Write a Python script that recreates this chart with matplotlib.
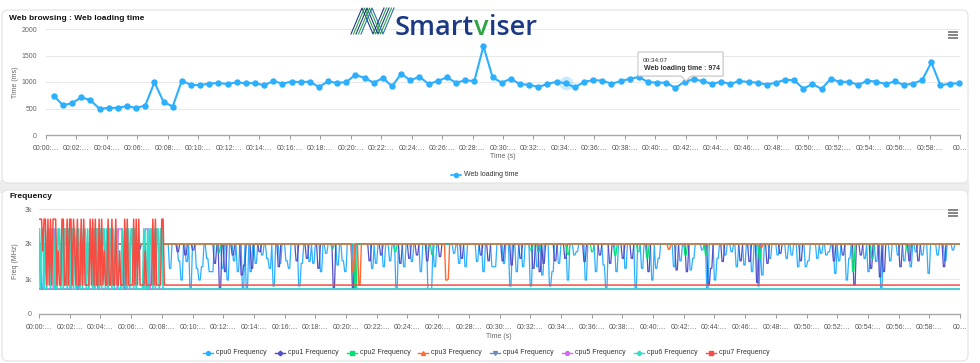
import numpy as np
import matplotlib
matplotlib.use("Agg")
import matplotlib.pyplot as plt
from matplotlib.patches import FancyBboxPatch, Rectangle, Polygon

plt.rcParams['font.family'] = ['Liberation Sans', 'DejaVu Sans']

W, H = 980, 363

# ---------------- Web loading time (one sample every 36 s, first at 31 s) ----------------
load_start_s = 31
load_step_s = 36
load_ms = [737, 562, 600, 712, 656, 494, 512, 512, 544, 512,
           556, 994, 625, 537, 1025, 944, 944, 969, 981, 962,
           994, 975, 981, 937, 1019, 969, 1006, 1000, 1006, 906,
           1012, 981, 1000, 1137, 1075, 987, 1075, 919, 1156, 1031,
           1100, 962, 1019, 1087, 987, 1031, 1019, 1675, 1087, 987,
           1062, 956, 950, 906, 962, 1006, 974, 900, 1000, 1037,
           1025, 969, 1012, 1062, 1094, 1000, 987, 987, 887, 1006,
           1050, 1019, 962, 1006, 962, 1019, 1000, 987, 950, 987,
           1044, 1031, 875, 962, 869, 1062, 1000, 1006, 944, 1025,
           1006, 962, 1012, 944, 969, 1037, 1369, 937, 969, 975]
tooltip_index = 56
tooltip_time = "00:34:07"

# ---------------- CPU frequency (MHz), sampled every 5 s over 60 min ----------------
freq_step_s = 5
freq_duration_s = 3600
dip_samples = 2   # each drop lasts about 10 s

# first ~8 minutes (98 samples) of the big cores
cpu7_early = [2710, 2710, 2710, 1800, 2710, 2710, 826, 2710, 826, 2710,
              826, 2710, 2710, 2710, 826, 1800, 826, 826, 2710, 2710,
              826, 826, 2710, 826, 2710, 2710, 826, 2710, 1800, 826,
              2710, 826, 826, 2710, 826, 2710, 826, 826, 826, 826,
              2710, 826, 2710, 826, 2710, 826, 826, 2710, 826, 2710,
              826, 1800, 826, 826, 2710, 826, 826, 2710, 826, 826,
              2710, 826, 826, 1800, 826, 826, 826, 2710, 826, 2710,
              826, 826, 826, 826, 2710, 826, 2710, 826, 2710, 826,
              826, 826, 826, 1800, 826, 826, 826, 826, 826, 2710,
              826, 2710, 826, 826, 826, 826, 2710, 2710]
cpu7_late = 826
cpu6_early = [2430, 710, 2430, 2430, 710, 2430, 710, 2430, 2430, 710,
              2430, 2430, 710, 2430, 710, 2430, 2430, 710, 2430, 710,
              2430, 2430, 710, 2430, 710, 2430, 2430, 710, 2430, 710,
              2430, 2430, 710, 2430, 710, 2430, 2430, 710, 2430, 710,
              2430, 2430, 710, 2430, 710, 2430, 2430, 710, 2430, 710,
              2430, 2430, 710, 2430, 710, 2430, 2430, 710, 2430, 710,
              2430, 2430, 710, 710, 710, 2430, 710, 2430, 2430, 710,
              2430, 710, 2430, 2430, 710, 2430, 710, 710, 710, 710,
              710, 710, 2430, 710, 710, 2430, 710, 2430, 2430, 710,
              2430, 710, 2430, 2430, 710, 2430, 2430, 710]
cpu6_late = 710
# (start minute, MHz) runs
cpu5_runs = [(0, 710), (1.0, 2430), (1.08, 710), (5.17, 2430), (5.5, 710),
             (6.92, 2430), (7.25, 710)]
cpu4_runs = [(0, 710), (2.17, 1700), (2.42, 710), (3.67, 2430), (3.83, 710)]

# little cores sit at 2000 MHz with short drops: (minute, MHz)
little_base = 2000
cpu0_dips = [(0.17, 710), (2.5, 710), (4.4, 1100), (5.6, 710), (6.3, 1300), (7.0, 710),
             (8.49, 1305), (9.08, 1520), (9.29, 971), (9.62, 1500), (9.84, 710), (10.23, 1305),
             (10.38, 971), (10.6, 1352), (10.93, 1590), (11.08, 1210), (11.25, 1210), (11.95, 1305),
             (12.23, 971), (12.66, 1520), (12.88, 1210), (13.25, 710), (13.53, 710), (13.71, 1210),
             (14.07, 1448), (14.51, 1686), (14.83, 1590), (14.99, 1305), (15.23, 800), (15.7, 1448),
             (16.07, 1520), (16.29, 1305), (16.9, 800), (17.07, 1448), (17.59, 1500), (17.87, 1448),
             (18.35, 1210), (18.63, 1735), (19.44, 1400), (19.72, 1520), (19.94, 1210), (20.5, 710),
             (21.67, 1305), (21.89, 1448), (22.43, 1352), (22.8, 1520), (23.21, 710), (23.74, 1352),
             (24.28, 1500), (24.82, 1210), (25.36, 710), (25.52, 710), (25.73, 1352), (26.99, 1735),
             (27.32, 1448), (27.75, 1352), (28.47, 1500), (28.95, 1210), (29.49, 1352), (29.7, 1352),
             (30.25, 1448), (30.68, 800), (31.07, 1210), (31.51, 1352), (31.99, 800), (32.42, 1352),
             (32.75, 1114), (33.25, 800), (33.4, 1210), (33.83, 1448), (34.42, 971), (34.81, 1686),
             (35.03, 1780), (35.57, 971), (36.22, 1210), (36.76, 1400), (36.94, 710), (37.59, 1210),
             (38.18, 1305), (38.83, 710), (39.26, 1305), (39.91, 971), (40.13, 1305), (40.34, 1590),
             (41.32, 1352), (41.76, 1520), (42.41, 1258), (42.62, 1590), (43.17, 1830), (43.49, 710),
             (43.97, 971), (44.14, 1590), (44.69, 1686), (45.12, 1780), (45.45, 1352), (45.88, 1400),
             (46.42, 1210), (46.86, 800), (47.08, 1114), (47.62, 1590), (48.05, 1686), (48.7, 1590),
             (49.03, 1686), (49.41, 1352), (49.91, 1352), (50.12, 1520), (50.67, 1590), (50.88, 1735),
             (51.21, 1686), (51.43, 1780), (51.86, 1160), (52.08, 1520), (52.58, 971), (52.73, 1590),
             (53.71, 1590), (53.97, 1210), (54.47, 1500), (54.86, 710), (55.45, 1520), (55.88, 1686),
             (56.31, 1520), (56.75, 1352), (57.07, 1780), (57.51, 1686), (57.94, 1160), (58.48, 1686),
             (59.03, 1520), (59.46, 1830)]
cpu1_dips = [(2.2, 1500), (2.3, 1700), (6.5, 1850),
             (8.97, 1780), (9.51, 1686), (10.01, 1830), (11.4, 1448), (11.73, 710), (12.12, 1210),
             (12.6, 1686), (13.14, 1114), (13.36, 1400), (13.86, 1305), (14.34, 1780), (15.6, 1352),
             (16.79, 1520), (17.44, 1590), (18.16, 1305), (19.18, 760), (20.44, 710), (21.52, 1520),
             (22.22, 1686), (23.52, 1448), (24.06, 1590), (24.6, 1686), (25.21, 1520), (26.12, 1640),
             (27.54, 1590), (28.73, 1686), (29.27, 1520), (30.14, 1520), (30.79, 1400), (31.33, 1590),
             (32.16, 1305), (32.59, 1210), (32.85, 1448), (33.61, 1520), (34.27, 1590), (35.46, 1500),
             (36.5, 1686), (37.2, 1448), (37.96, 1590), (38.61, 1590), (39.69, 1210), (41.5, 1258),
             (42.19, 1210), (43.55, 826), (43.71, 1305), (44.47, 1500), (45.66, 1520), (46.21, 1500),
             (46.75, 900), (47.45, 1448), (48.27, 1735), (49.58, 1520), (51.75, 1520), (52.3, 1686),
             (53.06, 826), (53.53, 1686), (54.14, 1305), (54.79, 1060), (54.97, 1210), (56.1, 1352),
             (56.64, 1520), (57.29, 1520), (58.92, 1352)]
cpu2_dips = [(11.69, 1760), (19.07, 1880), (20.57, 710), (23.19, 1780), (25.6, 1700), (32.03, 1830),
             (32.5, 1780), (34.42, 1700), (36.0, 1780), (37.46, 1686), (39.04, 1780), (39.6, 1600),
             (42.08, 1686), (43.38, 1686), (46.95, 1590), (53.0, 1210), (54.25, 1590), (56.6, 1780)]
cpu3_dips = [(20.4, 1210), (20.8, 830), (26.5, 971), (26.58, 1000), (41.0, 1850), (47.0, 1900)]

cpu_names = ['cpu0 Frequency', 'cpu1 Frequency', 'cpu2 Frequency', 'cpu3 Frequency',
             'cpu4 Frequency', 'cpu5 Frequency', 'cpu6 Frequency', 'cpu7 Frequency']
cpu_colors = ['#2caffe', '#544fc5', '#00e272', '#fe6a35', '#6b8abc', '#d568fb', '#2ee0ca', '#fa4b42']
cpu_markers = ['o', 'D', 's', '^', 'v', 'o', 'D', 's']

# ---------------- build series ----------------
n = freq_duration_s // freq_step_s + 1
t_freq = np.arange(n) * freq_step_s / 60.0


def with_dips(base, dips):
    arr = np.full(n, float(base))
    for tm, v in dips:
        i = int(round(tm * 60 / freq_step_s))
        arr[i:i + dip_samples] = np.minimum(arr[i:i + dip_samples], v)
    return arr


def from_runs(runs, late):
    arr = np.full(n, float(late))
    for tm, v in runs:
        arr[int(round(tm * 60 / freq_step_s)):len(cpu6_early)] = v
    return arr


def early_late(early, late):
    return np.concatenate([np.array(early, float), np.full(n - len(early), float(late))])


freq_series = [with_dips(little_base, cpu0_dips), with_dips(little_base, cpu1_dips),
               with_dips(little_base, cpu2_dips), with_dips(little_base, cpu3_dips),
               from_runs(cpu4_runs, cpu6_late), from_runs(cpu5_runs, cpu6_late),
               early_late(cpu6_early, cpu6_late), early_late(cpu7_early, cpu7_late)]
freq_lw = [0.9, 0.9, 0.9, 1.0, 1.0, 1.0, 1.3, 1.1]

t_load = (load_start_s + load_step_s * np.arange(len(load_ms))) / 60.0

# ---------------- figure ----------------
fig = plt.figure(figsize=(9.8, 3.63), dpi=100)
fig.patch.set_facecolor('white')


def fr(x0, y0, x1, y1):
    return [x0 / W, 1 - y1 / H, (x1 - x0) / W, (y1 - y0) / H]


bg = fig.add_axes([0, 0, 1, 1], zorder=-10)
bg.set_xlim(0, W); bg.set_ylim(H, 0); bg.axis('off')
bg.add_patch(Rectangle((0, 180), 968, 12, color='#ededed'))
for (y0, y1) in [(10, 183), (190, 361)]:
    bg.add_patch(FancyBboxPatch((2, y0), 966, y1 - y0, boxstyle='round,pad=0,rounding_size=6',
                                fc='white', ec='#e2e2e2', lw=0.8))

tick_pos = np.arange(0, 61, 2)
tick_lab = ["00:%02d:…" % m for m in tick_pos[:-1]] + ["00…"]

# ---- top chart ----
ax1 = fig.add_axes(fr(46, 29, 960, 135))
ax1.set_facecolor('none')
ax1.plot(t_load, load_ms, color='#2caffe', lw=1.5, marker='o', ms=3.6, zorder=3, clip_on=False)
ax1.plot(t_load[tooltip_index], load_ms[tooltip_index], 'o', ms=10, color='#2caffe', alpha=0.25,
         mec='none', zorder=2)
ax1.set_xlim(0, 60); ax1.set_ylim(0, 2000)
ax1.set_xticks(tick_pos); ax1.set_xticklabels(tick_lab)
ax1.set_yticks([0, 500, 1000, 1500, 2000])
ax1.tick_params(axis='y', length=0, pad=6.5, labelsize=5, labelcolor='#666666')
ax1.tick_params(axis='x', length=3, width=0.7, color='#999999', pad=4, labelsize=5, labelcolor='#555555')
for s in ['top', 'right', 'left']:
    ax1.spines[s].set_visible(False)
ax1.spines['bottom'].set_color('#a8a8a8'); ax1.spines['bottom'].set_linewidth(1.0)
ax1.grid(axis='y', color='#e8e8e8', lw=0.7); ax1.set_axisbelow(True)

# ---- bottom chart ----
ax2 = fig.add_axes(fr(39, 209, 960, 314))
ax2.set_facecolor('none')
for arr, c, lw in zip(freq_series, cpu_colors, freq_lw):
    ax2.plot(t_freq, arr, color=c, lw=lw)
ax2.set_xlim(0, 60); ax2.set_ylim(0, 3000)
ax2.set_xticks(tick_pos); ax2.set_xticklabels(tick_lab)
ax2.set_yticks([0, 1000, 2000, 3000]); ax2.set_yticklabels(['0', '1k', '2k', '3k'])
ax2.tick_params(axis='y', length=0, pad=5, labelsize=5, labelcolor='#666666')
ax2.tick_params(axis='x', length=3, width=0.7, color='#999999', pad=4, labelsize=5, labelcolor='#555555')
for s in ['top', 'right', 'left']:
    ax2.spines[s].set_visible(False)
ax2.spines['bottom'].set_color('#a8a8a8'); ax2.spines['bottom'].set_linewidth(1.0)
ax2.grid(axis='y', color='#e8e8e8', lw=0.7); ax2.set_axisbelow(True)

# ---- overlay ----
ov = fig.add_axes([0, 0, 1, 1], zorder=10)
ov.set_xlim(0, W); ov.set_ylim(H, 0); ov.axis('off')

ov.text(9, 18, "Web browsing : Web loading time", fontsize=6, fontweight='bold', color='#111111', va='center')
ov.text(9, 197, "Frequency", fontsize=6, fontweight='bold', color='#111111', va='center')
ov.text(15, 82, "Time (ms)", fontsize=5, color='#666666', rotation=90, ha='center', va='center')
ov.text(15, 261, "Freq (MHz)", fontsize=5, color='#666666', rotation=90, ha='center', va='center')
ov.text(503, 157, "Time (s)", fontsize=5, color='#666666', ha='center', va='center')
ov.text(499, 336, "Time (s)", fontsize=5, color='#666666', ha='center', va='center')

# legends
ov.plot([451, 461], [175, 175], color='#2caffe', lw=1.2)
ov.plot([456], [175], 'o', color='#2caffe', ms=3)
ov.text(464, 175, "Web loading time", fontsize=5, color='#333333', va='center')
for i, (name, c, m) in enumerate(zip(cpu_names, cpu_colors, cpu_markers)):
    cx = 208 + 71.8 * i
    ov.plot([cx - 5, cx + 5], [353, 353], color=c, lw=1.0)
    ov.plot([cx], [353], m, color=c, ms=2.8 if m != 'D' else 2.4)
    ov.text(cx + 8, 353, name, fontsize=5, color='#333333', va='center')

# menu icons
for yc in (35, 213):
    for dy in (-3, 0, 3):
        ov.plot([948, 958], [yc + dy, yc + dy], color='#666666', lw=1.1, solid_capstyle='butt')

# tooltip
tip = [(638, 52), (723, 52), (723, 76), (691, 76), (686, 81), (681, 76), (638, 76)]
ov.add_patch(Polygon([(x + 1, y + 1) for x, y in tip], closed=True, fc='#000000', alpha=0.08, ec='none'))
ov.add_patch(Polygon(tip, closed=True, fc='white', ec='#c8c8c8', lw=0.8))
ov.text(643, 60, tooltip_time, fontsize=4.6, color='#333333', va='center')
ov.text(644, 68.5, "Web loading time : %d" % load_ms[tooltip_index], fontsize=5, fontweight='bold',
        color='#333333', va='center')

# logo
navy = '#1c3a84'
green = '#2fa445'
stripes = [(-4, navy), (-1.5, green), (1, navy), (3.5, green), (6, '#2a6fb0')]
for off, c in stripes:
    xs = np.array([355, 366, 377, 388]) + off
    ys = [34, 8, 34, 8]
    ov.plot(xs, ys, color=c, lw=0.8)

fig.canvas.draw()
r = fig.canvas.get_renderer()
parts = [("Smart", navy), ("v", green), ("iser", navy)]
fs = 19.5
# scale logo text so that it spans 395..537 px
tmp = ov.text(0, 0, "".join(p for p, _ in parts), fontsize=fs, family='Open Sans', fontweight='semibold')
wpx = tmp.get_window_extent(renderer=r).width * W / fig.bbox.width
tmp.remove()
fs = fs * 142.0 / wpx
x = 395
for part, c in parts:
    t = ov.text(x, 35, part, fontsize=fs, color=c, family='Open Sans', fontweight='semibold', va='baseline')
    bb = t.get_window_extent(renderer=r)
    x += bb.width * W / fig.bbox.width

fig.savefig('out.png', dpi=100)
